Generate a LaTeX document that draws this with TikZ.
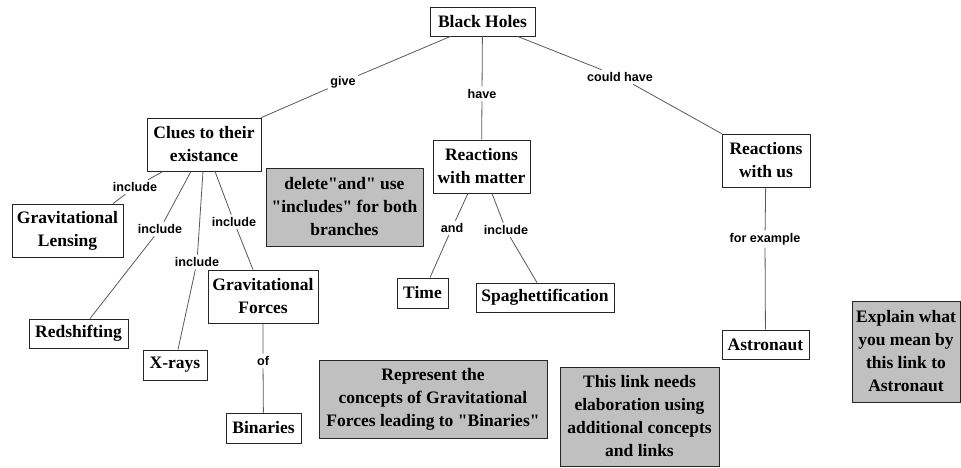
\documentclass[tikz,border=0pt]{standalone}
\usepackage{fontspec}
\setmainfont{Liberation Serif}[Ligatures=TeXOff]
\newfontfamily\linkfont{Liberation Sans}
\definecolor{notegray}{RGB}{192,192,192}
\begin{document}
\begin{tikzpicture}[x=1pt,y=-1pt,
  concept/.style={draw=black!85, line width=0.8pt, fill=white, align=center, inner sep=1pt,
    font=\fontsize{17.5}{23}\selectfont\bfseries},
  note/.style={concept, fill=notegray},
  lnk/.style={font=\linkfont\fontsize{12.6}{14}\selectfont\bfseries, inner sep=2.5pt},
  conn/.style={draw=black!65, line width=0.8pt}]
\useasboundingbox (0,0) rectangle (961,467);

% concepts
\node[concept, minimum width=105pt, minimum height=29pt] (bh) at (482.5,21.5) {Black Holes};
\node[concept, minimum width=114pt, minimum height=53pt] (clues) at (204,144.5) {Clues to their\\existance};
\node[concept, minimum width=111pt, minimum height=53pt] (lens) at (67.5,230.5) {Gravitational\\Lensing};
\node[concept, minimum width=99pt, minimum height=29pt] (red) at (78.5,333.5) {Redshifting};
\node[concept, minimum width=64pt, minimum height=30pt] (xray) at (175,365) {X-rays};
\node[concept, minimum width=110pt, minimum height=53pt] (gf) at (263,296.5) {Gravitational\\Forces};
\node[concept, minimum width=75pt, minimum height=30pt] (bin) at (263.5,428) {Binaries};
\node[concept, minimum width=97pt, minimum height=53pt] (rm) at (481.5,166.5) {Reactions\\with matter};
\node[concept, minimum width=51pt, minimum height=30pt] (time) at (422.5,293) {Time};
\node[concept, minimum width=138pt, minimum height=29pt] (spag) at (545,297.5) {Spaghettification};
\node[concept, minimum width=88pt, minimum height=53pt] (rwu) at (766,160.5) {Reactions\\with us};
\node[concept, minimum width=87pt, minimum height=29pt] (astro) at (765.5,344.5) {Astronaut};

% notes
\node[note, minimum width=157pt, minimum height=78pt] (n1) at (344.5,207) {delete"and" use\\"includes" for both\\branches};
\node[note, minimum width=228pt, minimum height=78pt] (n2) at (433,399) {Represent the\\concepts of Gravitational\\Forces leading to "Binaries"};
\node[note, minimum width=159pt, minimum height=99pt] (n3) at (639.5,416.5) {This link needs\\elaboration using\\additional concepts\\and links};
\node[note, minimum width=108pt, minimum height=101pt] (n4) at (906,351.5) {Explain what\\you mean by\\this link to\\Astronaut};

% link labels
\node[lnk] (give) at (343,82) {give};
\node[lnk] (have) at (482,94) {have};
\node[lnk] (could) at (620,77) {could have};
\node[lnk] (inc1) at (135,187) {include};
\node[lnk] (inc2) at (160,229) {include};
\node[lnk] (inc3) at (197,262) {include};
\node[lnk] (inc4) at (234,222) {include};
\node[lnk] (of) at (263,361) {of};
\node[lnk] (and) at (452,228) {and};
\node[lnk] (inc5) at (506,230) {include};
\node[lnk] (forex) at (765,239) {for example};

% connectors
\draw[conn] ([xshift=-32pt]bh.south) -- (give) -- (clues.north east);
\draw[conn] (bh) -- (have) -- (rm);
\draw[conn] ([xshift=35pt]bh.south) -- (could) -- (rwu.north west);
\draw[conn] ([xshift=-41pt]clues.south) -- (inc1) -- ([xshift=45.5pt]lens.north);
\draw[conn] ([xshift=-13pt]clues.south) -- (inc2) -- ([xshift=11.5pt]red.north);
\draw[conn] ([xshift=-1pt]clues.south) -- (inc3) -- ([xshift=3pt]xray.north);
\draw[conn] ([xshift=11pt]clues.south) -- (inc4) -- ([xshift=-10pt]gf.north);
\draw[conn] (gf) -- (of) -- (bin);
\draw[conn] ([xshift=-13.5pt]rm.south) -- (and) -- ([xshift=7.5pt]time.north);
\draw[conn] ([xshift=10.5pt]rm.south) -- (inc5) -- ([xshift=-8pt]spag.north);
\draw[conn] (rwu) -- (forex) -- (astro);
\end{tikzpicture}
\end{document}
